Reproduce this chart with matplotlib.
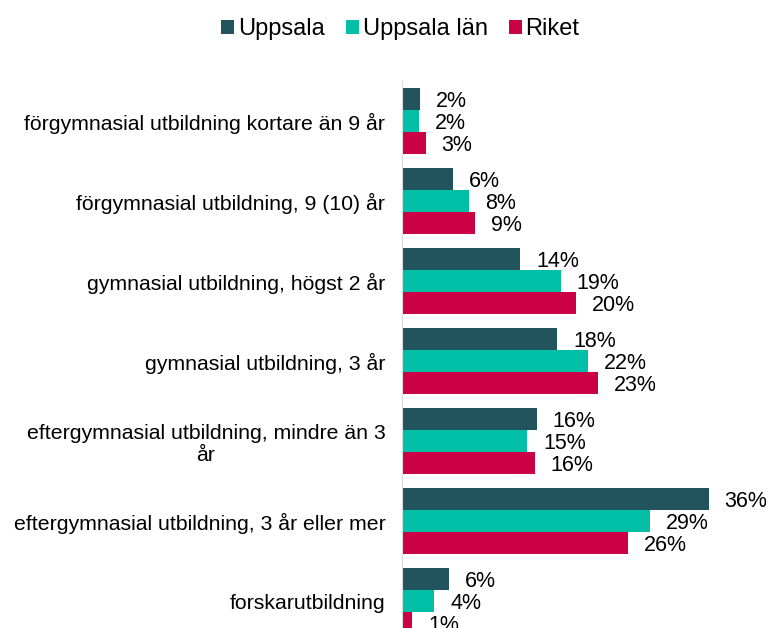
import numpy as np
import matplotlib.pyplot as plt

plt.rcParams['font.family'] = ['Liberation Sans', 'DejaVu Sans']

categories = [
    'förgymnasial utbildning kortare än 9 år',
    'förgymnasial utbildning, 9 (10) år',
    'gymnasial utbildning, högst 2 år',
    'gymnasial utbildning, 3 år',
    'eftergymnasial utbildning, mindre än 3\når',
    'eftergymnasial utbildning, 3 år eller mer',
    'forskarutbildning',
]
series = ['Uppsala', 'Uppsala län', 'Riket']
uppsala = [2.1, 6.0, 13.9, 18.2, 15.8, 36.0, 5.5]
uppsala_lan = [2.0, 7.9, 18.6, 21.8, 14.7, 29.1, 3.8]
riket = [2.8, 8.6, 20.4, 23.0, 15.6, 26.5, 1.2]
colors = ['#22545E', '#00BFA6', '#CC0044']

fig = plt.figure(figsize=(7.7, 6.28), dpi=100)
ax = fig.add_axes([0.522, -0.0207, 0.443, 0.8917])

y = np.arange(len(categories))
h = 0.275
for i, (name, vals) in enumerate(zip(series, [uppsala, uppsala_lan, riket])):
    pos = y + (i - 1) * h
    ax.barh(pos, vals, height=h, color=colors[i], label=name)
    for p, v in zip(pos, vals):
        ax.text(v + 1.85, p + 0.03, f'{round(v):.0f}%', va='center', ha='left', fontsize=15.5)

ax.set_xlim(0, 40)
ax.set_ylim(6.5, -0.5)
ax.set_yticks(y)
ax.set_yticklabels(categories, fontsize=15.3, multialignment='center')
ax.tick_params(axis='y', length=0, pad=12)
ax.set_xticks([])
for s in ['top', 'right', 'bottom']:
    ax.spines[s].set_visible(False)
ax.spines['left'].set_color('#D9D9D9')

fig.legend(loc='upper center', bbox_to_anchor=(0.52, 1.005), ncol=3, frameon=False,
           fontsize=17, handlelength=0.55, handleheight=0.55, handletextpad=0.15,
           columnspacing=0.9)

fig.savefig('out.png')
